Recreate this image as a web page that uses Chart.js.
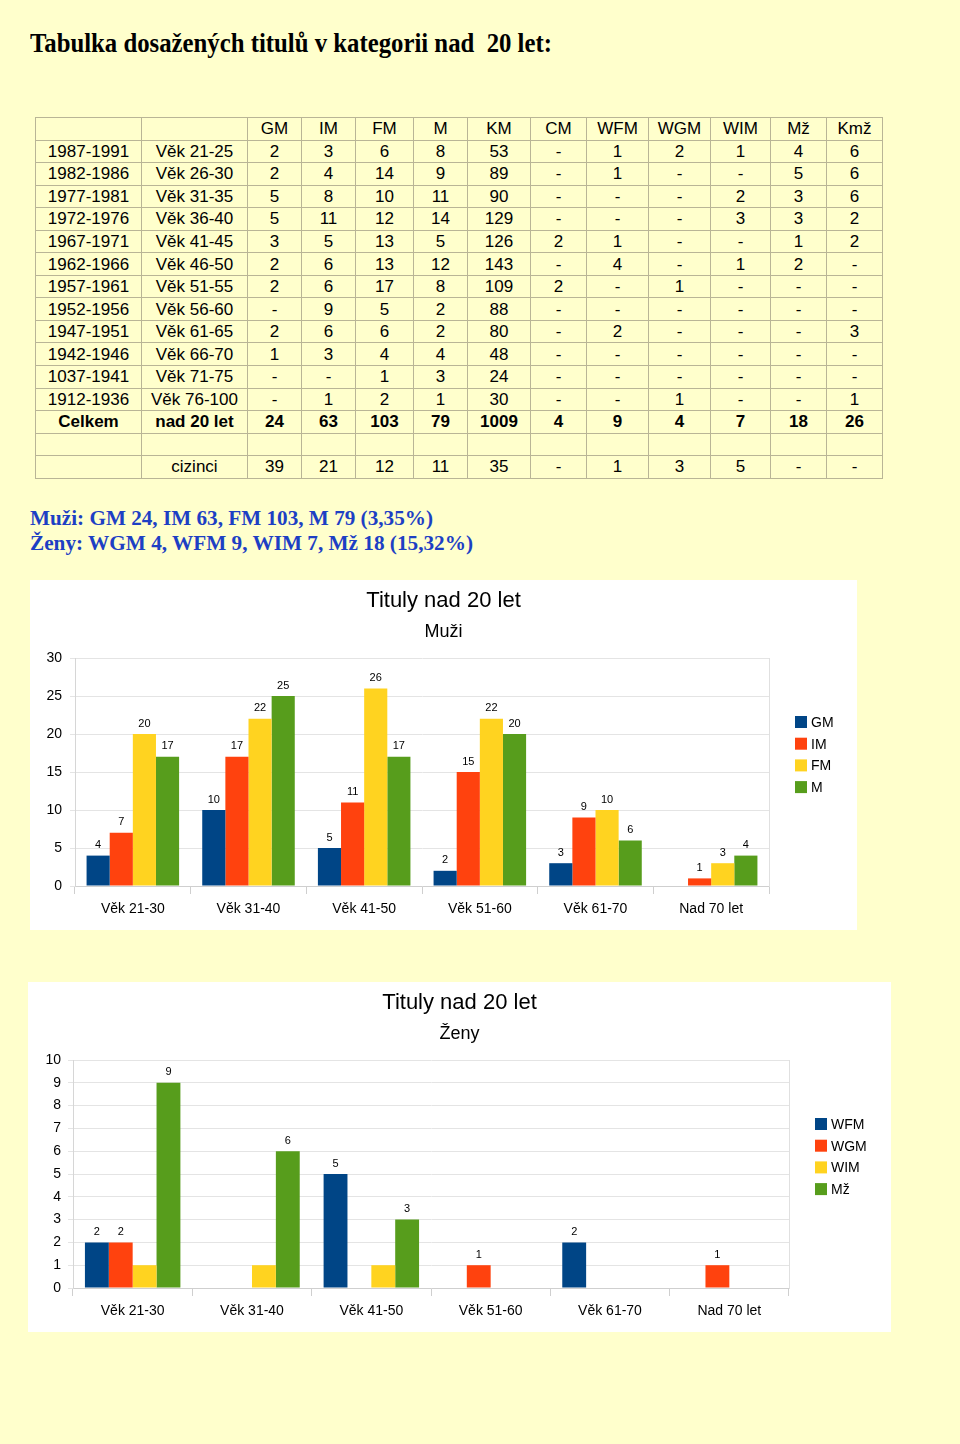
<!DOCTYPE html>
<html lang="cs">
<head>
<meta charset="utf-8">
<title>Tituly nad 20 let</title>
<script src="https://cdn.jsdelivr.net/npm/chart.js@4/dist/chart.umd.min.js"></script>
<style>
  html, body { margin: 0; padding: 0; }
  body {
    width: 960px; height: 1444px; position: relative; overflow: hidden;
    background: #ffffcc;
    font-family: "Liberation Sans", Arial, sans-serif;
  }
  .fit { position: absolute; white-space: nowrap; transform-origin: 0 0; display: inline-block; }
  #pageTitle { left: 30px; top: 28px; font: bold 27px/30px "Liberation Serif", "Times New Roman", serif; color: #000; }
  .summary { left: 30px; font: bold 21px/24px "Liberation Serif", "Times New Roman", serif; color: #1d3fc4; }
  #menLine { top: 506px; }
  #womenLine { top: 531px; }
  #titleTable {
    position: absolute; left: 35px; top: 117px;
    border-collapse: collapse; table-layout: fixed; width: 848px;
    font-size: 17px; color: #000;
  }
  #titleTable td {
    border: 1px solid #b9b596; padding: 0; height: 21.56px; line-height: 21px;
    text-align: center; overflow: hidden; white-space: nowrap;
  }
  #titleTable tr.total td { font-weight: bold; }
  canvas { position: absolute; background: #fff; }
  #menChart { left: 30px; top: 580px; }
  #womenChart { left: 28px; top: 982px; }
</style>
</head>
<body>
<div id="pageTitle" class="fit">Tabulka dosažených titulů v kategorii nad&nbsp; 20 let:</div>
<table id="titleTable"></table>
<div id="menLine" class="fit summary">Muži: GM 24, IM 63, FM 103, M 79 (3,35%)</div>
<div id="womenLine" class="fit summary">Ženy: WGM 4, WFM 9, WIM 7, Mž 18 (15,32%)</div>
<canvas id="menChart" width="827" height="350"></canvas>
<canvas id="womenChart" width="863" height="350"></canvas>
<script>
// --- tabulka ---
const colWidths = [106, 106, 54, 54, 58, 54, 63, 56, 62, 62, 60, 56, 56];
const tableHead = ['', '', 'GM', 'IM', 'FM', 'M', 'KM', 'CM', 'WFM', 'WGM', 'WIM', 'Mž', 'Kmž'];
const tableRows = [
    ['1987-1991', 'Věk 21-25', '2', '3', '6', '8', '53', '-', '1', '2', '1', '4', '6'],
    ['1982-1986', 'Věk 26-30', '2', '4', '14', '9', '89', '-', '1', '-', '-', '5', '6'],
    ['1977-1981', 'Věk 31-35', '5', '8', '10', '11', '90', '-', '-', '-', '2', '3', '6'],
    ['1972-1976', 'Věk 36-40', '5', '11', '12', '14', '129', '-', '-', '-', '3', '3', '2'],
    ['1967-1971', 'Věk 41-45', '3', '5', '13', '5', '126', '2', '1', '-', '-', '1', '2'],
    ['1962-1966', 'Věk 46-50', '2', '6', '13', '12', '143', '-', '4', '-', '1', '2', '-'],
    ['1957-1961', 'Věk 51-55', '2', '6', '17', '8', '109', '2', '-', '1', '-', '-', '-'],
    ['1952-1956', 'Věk 56-60', '-', '9', '5', '2', '88', '-', '-', '-', '-', '-', '-'],
    ['1947-1951', 'Věk 61-65', '2', '6', '6', '2', '80', '-', '2', '-', '-', '-', '3'],
    ['1942-1946', 'Věk 66-70', '1', '3', '4', '4', '48', '-', '-', '-', '-', '-', '-'],
    ['1037-1941', 'Věk 71-75', '-', '-', '1', '3', '24', '-', '-', '-', '-', '-', '-'],
    ['1912-1936', 'Věk 76-100', '-', '1', '2', '1', '30', '-', '-', '1', '-', '-', '1']
];
const totalRow = ['Celkem', 'nad 20 let', '24', '63', '103', '79', '1009', '4', '9', '4', '7', '18', '26'];
const emptyRow = ['', '', '', '', '', '', '', '', '', '', '', '', ''];
const foreignRow = ['', 'cizinci', '39', '21', '12', '11', '35', '-', '1', '3', '5', '-', '-'];

// --- grafy ---
const ageGroups = ['Věk 21-30', 'Věk 31-40', 'Věk 41-50', 'Věk 51-60', 'Věk 61-70', 'Nad 70 let'];
const menGM = [4, 10, 5, 2, 3, null];
const menIM = [7, 17, 11, 15, 9, 1];
const menFM = [20, 22, 26, 22, 10, 3];
const menM = [17, 25, 17, 20, 6, 4];
const womenWFM = [2, null, 5, null, 2, null];
const womenWGM = [2, null, null, 1, null, 1];
const womenWIM = [1, 1, 1, null, null, null];
const womenMz = [9, 6, 3, null, null, null];

function buildTable() {
    const table = document.getElementById('titleTable');
    const cg = document.createElement('colgroup');
    colWidths.forEach(w => {
        const c = document.createElement('col');
        c.style.width = w + 'px';
        cg.appendChild(c);
    });
    table.appendChild(cg);
    const addRow = (cells, cls) => {
        const tr = document.createElement('tr');
        if (cls) tr.className = cls;
        cells.forEach(t => {
            const td = document.createElement('td');
            td.textContent = t;
            tr.appendChild(td);
        });
        table.appendChild(tr);
    };
    addRow(tableHead);
    tableRows.forEach(r => addRow(r));
    addRow(totalRow, 'total');
    addRow(emptyRow);
    addRow(foreignRow);
}

function fitWidth(id, target) {
    const el = document.getElementById(id);
    const w = el.getBoundingClientRect().width;
    el.style.transform = `scaleX(${target / w})`;
}

buildTable();
fitWidth('pageTitle', 522);
fitWidth('menLine', 403);
fitWidth('womenLine', 443);

Chart.defaults.font.family = '"Liberation Sans", Arial, sans-serif';
Chart.defaults.color = '#000';

// popisky hodnot nad sloupci
const valueLabels = {
    id: 'valueLabels',
    afterDatasetsDraw(chart) {
        const ctx = chart.ctx;
        ctx.save();
        ctx.font = '11px "Liberation Sans", Arial, sans-serif';
        ctx.fillStyle = '#000';
        ctx.textAlign = 'center';
        ctx.textBaseline = 'bottom';
        chart.data.datasets.forEach((ds, i) => {
            if (ds.hideValues) return;
            chart.getDatasetMeta(i).data.forEach((bar, j) => {
                const v = ds.data[j];
                if (v == null) return;
                ctx.fillText(String(v), bar.x, bar.y - 5);
            });
        });
        ctx.restore();
    }
};

// legenda vpravo
const sideLegend = {
    id: 'sideLegend',
    afterDraw(chart, args, opts) {
        const ctx = chart.ctx;
        const x = chart.chartArea.right + opts.offsetX;
        let y = opts.top;
        ctx.save();
        ctx.font = '14px "Liberation Sans", Arial, sans-serif';
        ctx.textBaseline = 'middle';
        ctx.textAlign = 'left';
        chart.data.datasets.forEach(ds => {
            ctx.fillStyle = ds.backgroundColor;
            ctx.fillRect(x, y - 6, 12, 12);
            ctx.fillStyle = '#000';
            ctx.fillText(ds.label, x + 16, y + 1);
            y += opts.spacing;
        });
        ctx.restore();
    }
};

function makeChart(id, subtitle, datasets, yMax, yStep, legendWidth, yTickPad) {
    return new Chart(document.getElementById(id), {
        type: 'bar',
        data: { labels: ageGroups, datasets: datasets },
        options: {
            responsive: false,
            animation: false,
            datasets: { bar: { categoryPercentage: 0.8, barPercentage: 1.0 } },
            layout: { padding: 0 },
            plugins: {
                legend: { display: false },
                tooltip: { enabled: false },
                title: {
                    display: true, text: 'Tituly nad 20 let', color: '#000',
                    font: { size: 22, weight: 'normal' }, padding: { top: 8, bottom: 3 }
                },
                subtitle: {
                    display: true, text: subtitle, color: '#000',
                    font: { size: 18 }, padding: { top: 4, bottom: 15 }
                },
                sideLegend: { offsetX: 26, top: 142, spacing: 21.7 }
            },
            scales: {
                x: {
                    grid: { display: true, drawOnChartArea: false, tickLength: 8, color: '#cfcfcf' },
                    border: { color: '#cfcfcf' },
                    ticks: { font: { size: 14 }, color: '#000', padding: 7 },
                    afterFit(s) { s.height = 44; }
                },
                y: {
                    min: 0, max: yMax,
                    ticks: { stepSize: yStep, font: { size: 14 }, color: '#000', padding: yTickPad },
                    grid: { color: '#e4e4e4', tickLength: 5 },
                    border: { color: '#d6d6d6' },
                    afterFit(s) { s.width = 45; }
                },
                yR: {
                    position: 'right', min: 0, max: 1,
                    grid: { display: false },
                    ticks: { display: false },
                    border: { color: '#e0e0e0' },
                    afterFit(s) { s.width = legendWidth; }
                }
            }
        },
        plugins: [valueLabels, sideLegend]
    });
}

makeChart('menChart', 'Muži', [
    { label: 'GM', data: menGM, backgroundColor: '#004586' },
    { label: 'IM', data: menIM, backgroundColor: '#ff420e' },
    { label: 'FM', data: menFM, backgroundColor: '#ffd320' },
    { label: 'M', data: menM, backgroundColor: '#579d1c' }
], 30, 5, 88, 8);

makeChart('womenChart', 'Ženy', [
    { label: 'WFM', data: womenWFM, backgroundColor: '#004586' },
    { label: 'WGM', data: womenWGM, backgroundColor: '#ff420e' },
    { label: 'WIM', data: womenWIM, backgroundColor: '#ffd320', hideValues: true },
    { label: 'Mž', data: womenMz, backgroundColor: '#579d1c' }
], 10, 1, 102, 7);
</script>
</body>
</html>
